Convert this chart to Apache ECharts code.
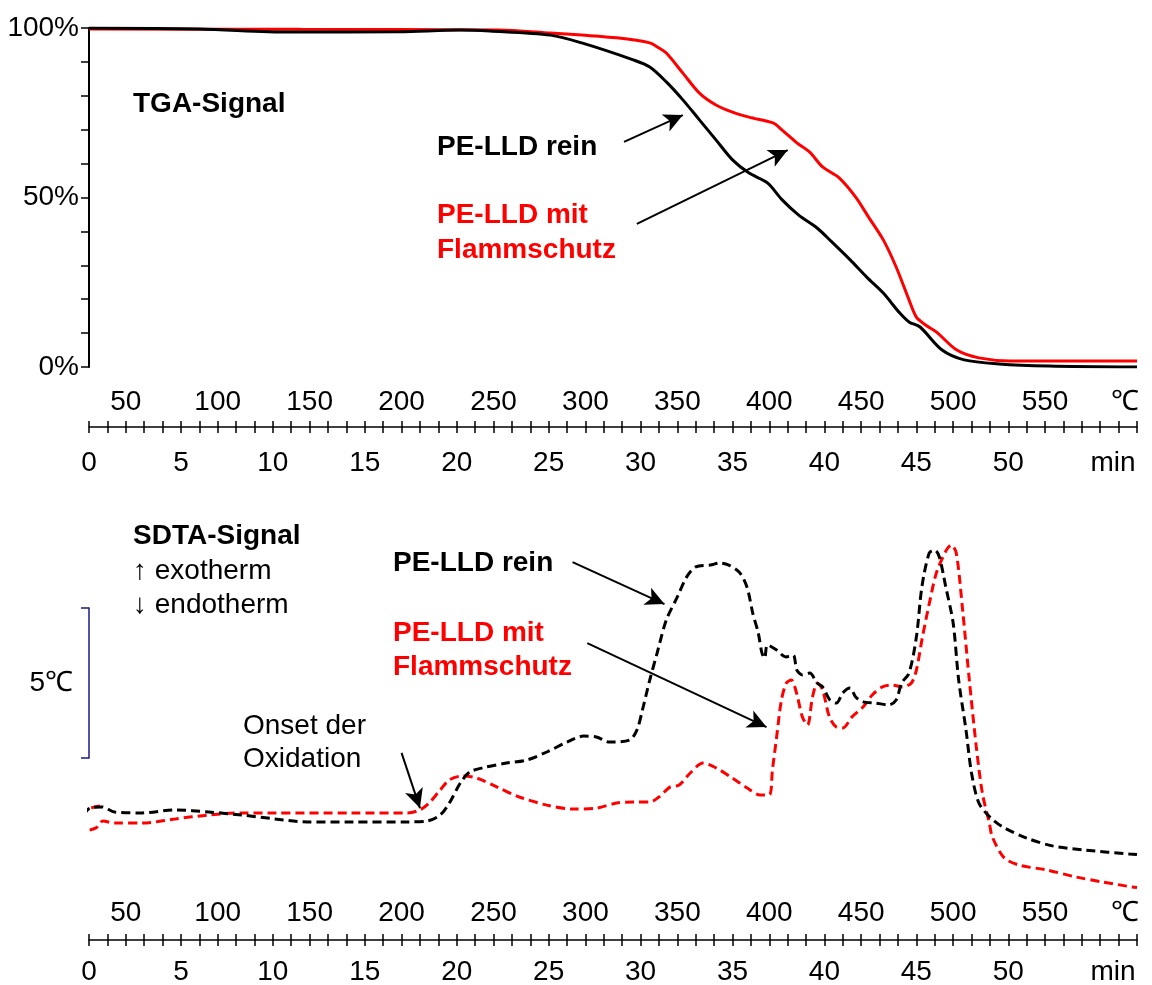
<!DOCTYPE html>
<html>
<head>
<meta charset="utf-8">
<script src="https://cdn.jsdelivr.net/npm/echarts@6/dist/echarts.min.js"></script>
<style>
  html, body { margin: 0; padding: 0; background: #fff; }
  #chart { width: 1152px; height: 985px; }
</style>
</head>
<body>
<div id="chart"></div>
<script>
// TGA-Signal, [Zeit in min, Masse in %]
const tgaRein = [[0,100],[6,99.7],[10.9,98.8],[16.9,98.9],[20.2,99.4],[21.8,99.1],[25.1,97.9],[26.8,95.6],[29.6,90.6],[30.5,88.5],[31.4,84.1],[32.3,78.8],[33.2,72.9],[34.1,67.0],[35.0,61.1],[35.9,57.2],[36.9,54.3],[37.7,49.3],[38.6,44.8],[39.6,41.0],[40.4,36.9],[41.4,31.6],[42.3,26.5],[43.2,21.8],[44.1,15.9],[44.6,13.3],[45.2,11.8],[46.4,5.0],[47.6,2.1],[49.5,0.9],[52.2,0.3],[57,0]];
const tgaFlamm = [[0,99.7],[11.5,99.6],[22.3,99.4],[25.1,98.5],[26.8,97.9],[28.7,97.1],[30.5,95.6],[31.0,94.1],[31.4,92.6],[32.3,86.7],[33.2,80.8],[34.1,77.3],[35.0,75.2],[35.9,73.7],[37.2,72.0],[37.7,69.9],[38.5,66.1],[39.2,63.4],[39.9,59.0],[40.8,55.8],[41.7,50.1],[42.4,44.2],[43.2,37.5],[43.9,29.5],[44.6,19.8],[45.0,14.7],[45.5,12.4],[46.1,10.3],[47.2,5.0],[48.4,2.7],[50.1,1.8],[57,1.8]];

// SDTA-Signal, [Zeit in min, Temperaturdifferenz relativ in ℃]
const sdtaRein = [[-0.3,2.5],[0.05,2.73],[0.7,2.77],[1.4,2.6],[2.9,2.57],[4.7,2.67],[6.5,2.6],[8.3,2.5],[10.1,2.37],[11.9,2.27],[14.3,2.27],[17.3,2.27],[18.4,2.3],[19.1,2.5],[19.6,2.9],[20.2,3.57],[20.7,3.93],[21.4,4.07],[22.7,4.23],[23.8,4.33],[24.9,4.6],[26.0,4.93],[26.9,5.13],[27.6,5.1],[28.3,4.93],[29.4,5.0],[29.8,5.33],[30.1,6.0],[30.5,7.0],[30.9,7.9],[31.4,9.0],[32.0,9.77],[32.5,10.43],[33.0,10.77],[33.8,10.83],[34.3,10.9],[34.8,10.83],[35.4,10.57],[35.8,10.07],[36.1,9.23],[36.4,8.57],[36.6,7.9],[36.75,7.73],[36.9,8.17],[37.4,8.0],[37.9,7.77],[38.3,7.83],[38.5,7.33],[38.8,7.17],[39.2,7.23],[39.6,6.9],[39.9,6.77],[40.3,6.33],[40.65,6.23],[41.0,6.57],[41.4,6.73],[41.7,6.43],[42.1,6.27],[42.8,6.23],[43.5,6.17],[43.9,6.33],[44.2,6.9],[44.6,7.23],[45.0,8.43],[45.3,10.1],[45.7,11.23],[46.0,11.33],[46.25,11.1],[46.6,10.1],[47.0,8.9],[47.3,7.0],[47.7,5.33],[48.0,3.9],[48.4,2.9],[49.0,2.43],[49.7,2.1],[51.0,1.73],[52.4,1.47],[54.2,1.33],[56.6,1.2],[57,1.18]];
const sdtaFlamm = [[0.6,2.8],[-0.15,2.67],[-0.38,2.33],[-0.22,1.97],[0.38,2.07],[0.76,2.3],[1.4,2.23],[2.9,2.23],[4.7,2.37],[6.5,2.5],[8.3,2.57],[10.1,2.57],[14.3,2.57],[17.3,2.57],[18.0,2.67],[18.5,2.9],[19.1,3.33],[19.6,3.67],[20.3,3.8],[21.1,3.73],[22.2,3.43],[23.4,3.1],[24.9,2.83],[26.3,2.7],[27.6,2.73],[28.7,2.9],[29.6,2.93],[30.5,2.93],[31.0,3.1],[31.6,3.43],[32.1,3.5],[32.7,3.9],[33.4,4.23],[34.1,4.07],[35.0,3.73],[35.8,3.4],[36.5,3.17],[37.0,3.17],[37.17,4.0],[37.4,5.1],[37.66,6.33],[37.93,6.9],[38.2,7.0],[38.48,6.57],[38.8,5.77],[39.08,5.5],[39.35,6.43],[39.62,6.9],[39.9,6.67],[40.27,5.77],[40.65,5.43],[41.0,5.4],[41.5,5.77],[42.1,6.1],[42.6,6.5],[43.15,6.77],[43.7,6.83],[44.24,6.77],[44.73,6.9],[45.0,7.33],[45.33,8.43],[45.71,9.57],[46.09,10.57],[46.63,11.33],[46.9,11.5],[47.17,11.23],[47.5,9.43],[47.88,7.0],[48.26,4.77],[48.59,3.23],[48.97,2.23],[49.13,1.77],[49.78,1.07],[50.6,0.83],[52.07,0.67],[53.7,0.43],[55.1,0.27],[56.74,0.1],[57,0.08]];

// Pfeile (Anfang, Spitze)
const tgaArrows = [[[29.1,66.4],[32.3,74.3]], [[29.8,42.2],[38.0,64.0]]];
const sdtaArrows = [[[26.3,10.93],[31.3,9.53]], [[27.1,8.23],[36.85,5.43]], [[17.0,4.57],[18.0,2.73]]];

// Achsenbeschriftungen
const timeLabels = [0, 5, 10, 15, 20, 25, 30, 35, 40, 45, 50];
const tempLabels = [50, 100, 150, 200, 250, 300, 350, 400, 450, 500, 550];
const tgaLabels = [0, 50, 100];

const FONT = "'Liberation Sans', Arial, sans-serif";
const FS = 28;
const L = 89, R = 15;
const T_MAX = 57;
const pxPerMin = (1152 - L - R) / T_MAX;
const tempLeft = L - 3 * pxPerMin;   // 30 ℃ bei t = 0, 10 K/min

const panels = [
  { top: 28, height: 339, ruler: 427, timeGap: 22, tempGap: 11 },
  { top: 530, height: 360, ruler: 940, timeGap: 18, tempGap: 13 }
];

let grid = [], xAxis = [], yAxis = [];
const plotX = [], plotY = [];

panels.forEach((p, i) => {
  // Diagramm
  const g = grid.length;
  grid.push({ left: L, right: R, top: p.top, height: p.height });
  plotX.push(xAxis.length);
  plotY.push(yAxis.length);
  xAxis.push({ gridIndex: g, type: 'value', min: 0, max: T_MAX, show: false });
  if (i === 0) {
    yAxis.push({
      gridIndex: g, type: 'value', min: 0, max: 100, interval: 10,
      axisLine: { show: true, lineStyle: { color: '#000', width: 2 } },
      axisTick: { show: true, length: 8, lineStyle: { color: '#000', width: 1.5 } },
      splitLine: { show: false },
      axisLabel: {
        margin: 10, color: '#000', fontSize: FS, fontFamily: FONT,
        formatter: v => tgaLabels.includes(v) ? v + '%' : ''
      }
    });
  } else {
    yAxis.push({ gridIndex: g, type: 'value', min: 0, max: 12, show: false });
  }

  // Zeitachse (min)
  const gt = grid.length;
  grid.push({ left: L, right: R, top: p.ruler, height: 0 });
  xAxis.push({
    gridIndex: gt, type: 'value', position: 'bottom', min: 0, max: T_MAX, interval: 1,
    axisLine: { show: true, lineStyle: { color: '#000', width: 1.5 } },
    axisTick: { show: true, length: 6, lineStyle: { color: '#000', width: 1.5 } },
    splitLine: { show: false },
    axisLabel: {
      margin: p.timeGap, color: '#000', fontSize: FS, fontFamily: FONT,
      formatter: v => timeLabels.includes(v) ? String(v) : ''
    }
  });
  xAxis.push({
    gridIndex: gt, type: 'value', position: 'top', min: 0, max: T_MAX, interval: 1,
    axisLine: { show: false },
    axisTick: { show: true, length: 6, lineStyle: { color: '#000', width: 1.5 } },
    splitLine: { show: false },
    axisLabel: { show: false }
  });
  yAxis.push({ gridIndex: gt, type: 'value', min: 0, max: 1, show: false });

  // Temperaturachse (℃)
  const gc = grid.length;
  grid.push({ left: tempLeft, right: R, top: p.ruler, height: 0 });
  xAxis.push({
    gridIndex: gc, type: 'value', position: 'top', min: 0, max: 600, interval: 50,
    axisLine: { show: false },
    axisTick: { show: false },
    splitLine: { show: false },
    axisLabel: {
      margin: p.tempGap, color: '#000', fontSize: FS, fontFamily: FONT,
      formatter: v => tempLabels.includes(v) ? String(v) : ''
    }
  });
  yAxis.push({ gridIndex: gc, type: 'value', min: 0, max: 1, show: false });
});

// Massstab 5 ℃
const gs = grid.length;
grid.push({ left: L, width: 1, top: 608, height: 150 });
xAxis.push({ gridIndex: gs, type: 'value', min: 0, max: 1, show: false });
yAxis.push({
  gridIndex: gs, type: 'value', min: 0, max: 5, interval: 5,
  axisLine: { show: true, lineStyle: { color: '#1a1a80', width: 1.5 } },
  axisTick: { show: true, length: 8, lineStyle: { color: '#1a1a80', width: 1.5 } },
  axisLabel: { show: false },
  splitLine: { show: false },
  name: '5℃', nameLocation: 'middle', nameRotate: 0, nameGap: 16,
  nameTextStyle: { color: '#000', fontSize: FS, fontFamily: FONT }
});

const arrowLines = (arr) => ({
  silent: true,
  animation: false,
  symbol: ['none', 'arrow'],
  symbolSize: [14, 19],
  label: { show: false },
  lineStyle: { color: '#000', width: 2, type: 'solid' },
  data: arr.map(a => [{ coord: a[0] }, { coord: a[1] }])
});

const texts = [
  ['TGA-Signal', 133, 104, true, '#000'],
  ['PE-LLD rein', 437, 147, true, '#000'],
  ['PE-LLD mit', 437, 215, true, '#f00'],
  ['Flammschutz', 437, 250, true, '#f00'],
  ['SDTA-Signal', 133, 536, true, '#000'],
  ['↑ exotherm', 133, 571, false, '#000'],
  ['↓ endotherm', 133, 605, false, '#000'],
  ['Onset der', 243, 726, false, '#000'],
  ['Oxidation', 243, 759, false, '#000'],
  ['PE-LLD rein', 393, 563, true, '#000'],
  ['PE-LLD mit', 393, 633, true, '#f00'],
  ['Flammschutz', 393, 667, true, '#f00']
];
const graphic = texts.map(t => ({
  type: 'text', x: t[1], y: t[2], silent: true,
  style: { text: t[0], fill: t[4], font: (t[3] ? 'bold ' : '') + FS + 'px ' + FONT,
           align: 'left', verticalAlign: 'middle' }
}));
panels.forEach(p => {
  graphic.push({ type: 'text', x: 1125, y: p.ruler - p.tempGap - 14, silent: true,
    style: { text: '℃', fill: '#000', font: FS + 'px ' + FONT, align: 'center', verticalAlign: 'middle' } });
  graphic.push({ type: 'text', x: 1113, y: p.ruler + p.timeGap + 14, silent: true,
    style: { text: 'min', fill: '#000', font: FS + 'px ' + FONT, align: 'center', verticalAlign: 'middle' } });
});

const chart = echarts.init(document.getElementById('chart'), null, { renderer: 'canvas' });
chart.setOption({
  animation: false,
  backgroundColor: '#fff',
  grid: grid,
  xAxis: xAxis,
  yAxis: yAxis,
  graphic: graphic,
  series: [
    {
      name: 'PE-LLD rein', type: 'line', xAxisIndex: plotX[0], yAxisIndex: plotY[0],
      data: tgaRein, showSymbol: false, smooth: 0.3,
      lineStyle: { color: '#000', width: 3 },
      markLine: arrowLines(tgaArrows), z: 3
    },
    {
      name: 'PE-LLD mit Flammschutz', type: 'line', xAxisIndex: plotX[0], yAxisIndex: plotY[0],
      data: tgaFlamm, showSymbol: false, smooth: 0.3,
      lineStyle: { color: '#f00', width: 3 }, z: 2
    },
    {
      name: 'PE-LLD rein', type: 'line', xAxisIndex: plotX[1], yAxisIndex: plotY[1],
      data: sdtaRein, showSymbol: false, smooth: 0.3, clip: false,
      lineStyle: { color: '#000', width: 3, type: [9, 5] },
      markLine: arrowLines(sdtaArrows), z: 3
    },
    {
      name: 'PE-LLD mit Flammschutz', type: 'line', xAxisIndex: plotX[1], yAxisIndex: plotY[1],
      data: sdtaFlamm, showSymbol: false, smooth: 0.3, clip: false,
      lineStyle: { color: '#f00', width: 3, type: [9, 5] }, z: 2
    }
  ]
});
</script>
</body>
</html>
